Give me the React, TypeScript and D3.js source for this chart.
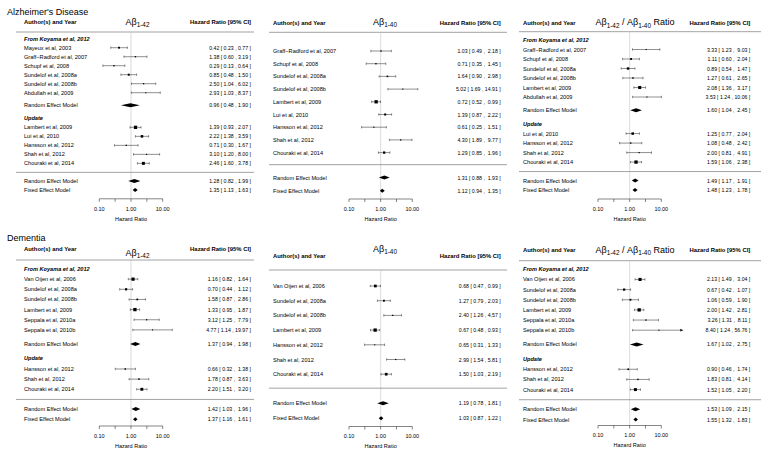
import React from "react";
import * as d3 from "d3";

type Row = [string, number, number, number];

// ---------- Alzheimer's disease ----------
const ad42Koyama: Row[] = [
  ["Mayeux et al, 2003", 0.42, 0.23, 0.77],
  ["Graff\u2212Radford et al, 2007", 1.38, 0.6, 3.19],
  ["Schupf et al, 2008", 0.29, 0.13, 0.64],
  ["Sundelof et al, 2008a", 0.85, 0.48, 1.5],
  ["Sundelof et al, 2008b", 2.5, 1.04, 6.02],
  ["Abdullah et al, 2009", 2.93, 1.03, 8.37],
];
const ad42KoyamaRE = [0.96, 0.48, 1.9];
const ad42Update: Row[] = [
  ["Lambert et al, 2009", 1.39, 0.93, 2.07],
  ["Lui et al, 2010", 2.22, 1.38, 3.59],
  ["Hansson et al, 2012", 0.71, 0.3, 1.67],
  ["Shah et al, 2012", 3.1, 1.2, 8.0],
  ["Chouraki et al, 2014", 2.46, 1.6, 3.78],
];
const ad42RE = [1.28, 0.82, 1.99];
const ad42FE = [1.35, 1.13, 1.63];

const ad40Studies: Row[] = [
  ["Graff\u2212Radford et al, 2007", 1.03, 0.49, 2.18],
  ["Schupf et al, 2008", 0.71, 0.35, 1.45],
  ["Sundelof et al, 2008a", 1.64, 0.9, 2.98],
  ["Sundelof et al, 2008b", 5.02, 1.69, 14.91],
  ["Lambert et al, 2009", 0.72, 0.52, 0.99],
  ["Lui et al, 2010", 1.39, 0.87, 2.22],
  ["Hansson et al, 2012", 0.61, 0.25, 1.51],
  ["Shah et al, 2012", 4.3, 1.89, 9.77],
  ["Chouraki et al, 2014", 1.29, 0.85, 1.96],
];
const ad40RE = [1.31, 0.88, 1.93];
const ad40FE = [1.12, 0.94, 1.35];

const adRatioKoyama: Row[] = [
  ["Graff\u2212Radford et al, 2007", 3.33, 1.23, 9.03],
  ["Schupf et al, 2008", 1.11, 0.6, 2.04],
  ["Sundelof et al, 2008a", 0.89, 0.54, 1.47],
  ["Sundelof et al, 2008b", 1.27, 0.61, 2.65],
  ["Lambert et al, 2009", 2.08, 1.36, 3.17],
  ["Abdullah et al, 2009", 3.53, 1.24, 10.06],
];
const adRatioKoyamaRE = [1.6, 1.04, 2.45];
const adRatioUpdate: Row[] = [
  ["Lui et al, 2010", 1.25, 0.77, 2.04],
  ["Hansson et al, 2012", 1.08, 0.48, 2.42],
  ["Shah et al, 2012", 2.0, 0.81, 4.91],
  ["Chouraki et al, 2014", 1.59, 1.06, 2.38],
];
const adRatioRE = [1.49, 1.17, 1.91];
const adRatioFE = [1.48, 1.23, 1.78];

// ---------- Dementia ----------
const dem42Koyama: Row[] = [
  ["Van Oijen et al, 2006", 1.16, 0.82, 1.64],
  ["Sundelof et al, 2008a", 0.7, 0.44, 1.12],
  ["Sundelof et al, 2008b", 1.58, 0.87, 2.86],
  ["Lambert et al, 2009", 1.33, 0.95, 1.87],
  ["Seppala et al, 2010a", 3.12, 1.25, 7.79],
  ["Seppala et al, 2010b", 4.77, 1.14, 19.97],
];
const dem42KoyamaRE = [1.37, 0.94, 1.98];
const dem42Update: Row[] = [
  ["Hansson et al, 2012", 0.66, 0.32, 1.38],
  ["Shah et al, 2012", 1.78, 0.87, 3.63],
  ["Chouraki et al, 2014", 2.2, 1.51, 3.2],
];
const dem42RE = [1.42, 1.03, 1.96];
const dem42FE = [1.37, 1.16, 1.61];

const dem40Studies: Row[] = [
  ["Van Oijen et al, 2006", 0.68, 0.47, 0.99],
  ["Sundelof et al, 2008a", 1.27, 0.79, 2.03],
  ["Sundelof et al, 2008b", 2.4, 1.26, 4.57],
  ["Lambert et al, 2009", 0.67, 0.48, 0.93],
  ["Hansson et al, 2012", 0.65, 0.31, 1.33],
  ["Shah et al, 2012", 2.99, 1.54, 5.81],
  ["Chouraki et al, 2014", 1.5, 1.03, 2.19],
];
const dem40RE = [1.19, 0.78, 1.81];
const dem40FE = [1.03, 0.87, 1.22];

const demRatioKoyama: Row[] = [
  ["Van Oijen et al, 2006", 2.13, 1.49, 3.04],
  ["Sundelof et al, 2008a", 0.67, 0.42, 1.07],
  ["Sundelof et al, 2008b", 1.06, 0.59, 1.9],
  ["Lambert et al, 2009", 2.0, 1.42, 2.81],
  ["Seppala et al, 2010a", 3.26, 1.31, 8.11],
  ["Seppala et al, 2010b", 8.4, 1.24, 56.76],
];
const demRatioKoyamaRE = [1.67, 1.02, 2.75];
const demRatioUpdate: Row[] = [
  ["Hansson et al, 2012", 0.9, 0.46, 1.74],
  ["Shah et al, 2012", 1.83, 0.81, 4.14],
  ["Chouraki et al, 2014", 1.52, 1.05, 2.2],
];
const demRatioRE = [1.53, 1.09, 2.15];
const demRatioFE = [1.55, 1.32, 1.83];

// ---------- axis ----------
const tickValues = [0.1, 0.316, 1, 3.16, 10];
const tickLabelValues = [0.1, 1, 10];
const xDomain: [number, number] = [0.1, 10];

const sectionTitles = ["Alzheimer's Disease", "Dementia"];
const groupTitles = ["From Koyama et al, 2012", "Update"];

// ---------- layout ----------
const FONT = "'Liberation Sans', Arial, Helvetica, sans-serif";
const W = 762;
const H = 458;

interface Col {
  range: [number, number];
  labelX: number;
  ciX: number;
  lineX: [number, number];
  titleX: number;
}
const cols: Col[] = [
  { range: [99.3, 162.7], labelX: 24, ciX: 251, lineX: [16, 254], titleX: 137.5 },
  { range: [349, 412.3], labelX: 273, ciX: 500.7, lineX: [269, 507], titleX: 385 },
  { range: [598, 661.3], labelX: 523, ciX: 750.3, lineX: [519, 761], titleX: 635 },
];

interface PanelDef {
  col: number;
  kind: "a42" | "a40" | "ratio";
  A: Row[];
  reA?: number[];
  B?: Row[];
  re: number[];
  fe: number[];
  y0: number;
  s: number;
  headY: number;
  lineY: number;
  axisY: number;
  titleY: number;
  clipHi?: number;
}

const panels: PanelDef[] = [
  { col: 0, kind: "a42", A: ad42Koyama, reA: ad42KoyamaRE, B: ad42Update, re: ad42RE, fe: ad42FE,
    y0: 38.7, s: 9.0, headY: 21.7, lineY: 32, axisY: 198.8, titleY: 22 },
  { col: 1, kind: "a40", A: ad40Studies, re: ad40RE, fe: ad40FE,
    y0: 51, s: 12.7, headY: 23.3, lineY: 32.3, axisY: 199, titleY: 21.5 },
  { col: 2, kind: "ratio", A: adRatioKoyama, reA: adRatioKoyamaRE, B: adRatioUpdate, re: adRatioRE, fe: adRatioFE,
    y0: 40, s: 9.5, headY: 22.7, lineY: 31.7, axisY: 199, titleY: 22.3 },
  { col: 0, kind: "a42", A: dem42Koyama, reA: dem42KoyamaRE, B: dem42Update, re: dem42RE, fe: dem42FE,
    y0: 269, s: 10.15, headY: 249.3, lineY: 260, axisY: 426, titleY: 253 },
  { col: 1, kind: "a40", A: dem40Studies, re: dem40RE, fe: dem40FE,
    y0: 286, s: 14.7, headY: 256, lineY: 270, axisY: 426.5, titleY: 248.5 },
  { col: 2, kind: "ratio", A: demRatioKoyama, reA: demRatioKoyamaRE, B: demRatioUpdate, re: demRatioRE, fe: demRatioFE,
    y0: 269.3, s: 10.15, headY: 250, lineY: 260.7, axisY: 425.5, titleY: 250, clipHi: 50 },
];

type Item =
  | { t: "group"; text: string; k: number }
  | { t: "study"; row: Row; k: number }
  | { t: "sum"; text: string; v: number[]; k: number }
  | { t: "sep"; k: number };

function buildItems(p: PanelDef): Item[] {
  const items: Item[] = [];
  let last = 0;
  if (p.B && p.reA) {
    items.push({ t: "group", text: groupTitles[0], k: 0 });
    p.A.forEach((r, i) => items.push({ t: "study", row: r, k: i + 1 }));
    const n1 = p.A.length;
    items.push({ t: "sum", text: "Random Effect Model", v: p.reA, k: n1 + 1.4 });
    items.push({ t: "group", text: groupTitles[1], k: n1 + 2.8 });
    p.B.forEach((r, i) => items.push({ t: "study", row: r, k: n1 + 3.85 + i }));
    last = n1 + 3.85 + p.B.length - 1;
    const sep = last + 1.0;
    items.push({ t: "sep", k: sep });
    items.push({ t: "sum", text: "Random Effect Model", v: p.re, k: sep + 0.95 });
    items.push({ t: "sum", text: "Fixed Effect Model", v: p.fe, k: sep + 1.95 });
  } else {
    p.A.forEach((r, i) => items.push({ t: "study", row: r, k: i }));
    last = p.A.length - 1;
    const sep = last + 0.95;
    items.push({ t: "sep", k: sep });
    items.push({ t: "sum", text: "Random Effect Model", v: p.re, k: sep + 1.02 });
    items.push({ t: "sum", text: "Fixed Effect Model", v: p.fe, k: sep + 2.05 });
  }
  return items;
}

const f2 = (v: number) => v.toFixed(2);

function Title({ kind, x, y }: { kind: string; x: number; y: number }) {
  const big = 9;
  const sub = 6.4;
  if (kind === "ratio") {
    return (
      <text x={x} y={y} textAnchor="middle" dominantBaseline="central" fontSize={big} fontFamily={FONT} style={{ whiteSpace: "pre" }}>
        <tspan>Aβ</tspan>
        <tspan fontSize={sub} dy={2.3}>1-42</tspan>
        <tspan dy={-2.3}> / Aβ</tspan>
        <tspan fontSize={sub} dy={2.3}>1-40</tspan>
        <tspan dy={-2.3}> Ratio</tspan>
      </text>
    );
  }
  return (
    <text x={x} y={y} textAnchor="middle" dominantBaseline="central" fontSize={big} fontFamily={FONT}>
      <tspan>Aβ</tspan>
      <tspan fontSize={sub} dy={2.3}>{kind === "a42" ? "1-42" : "1-40"}</tspan>
    </text>
  );
}

function Panel({ p }: { p: PanelDef }) {
  const c = cols[p.col];
  const x = d3.scaleLog().domain(xDomain).range(c.range);
  const y = d3.scaleLinear().domain([0, 1]).range([p.y0, p.y0 + p.s]);
  const items = buildItems(p);

  // square sizes from inverse-variance weights (metafor style: rescaled to 0.5..1.5)
  const studies = items.filter((d) => d.t === "study") as { t: "study"; row: Row; k: number }[];
  const wts = studies.map((d) => {
    const se = (Math.log(d.row[3]) - Math.log(d.row[2])) / (2 * 1.959964);
    return 1 / (se * se);
  });
  const wMin = d3.min(wts)!;
  const wMax = d3.max(wts)!;
  const psize = (w: number) => 0.5 + (w - wMin) / (wMax - wMin);
  const S = 2.2;

  // width padding of upper CI, like formatC
  const allHi = [
    ...studies.map((d) => f2(d.row[3])),
    ...items.filter((d) => d.t === "sum").map((d: any) => f2(d.v[2])),
  ];
  const hiW = d3.max(allHi, (s) => s.length)!;
  const ciText = (e: number, lo: number, hi: number) =>
    `${f2(e)} [ ${f2(lo)} , ${f2(hi).padStart(hiW, " ")} ]`;

  const labelSize = 5.6;
  const ciSize = 5.2;
  const cap = 1.2;
  const dh = 2.0;
  const x1 = x(1);

  let si = 0;
  return (
    <g>
      {/* header */}
      <text x={c.labelX} y={p.headY} dominantBaseline="central" fontSize={5.9} fontWeight="bold" fontFamily={FONT}>
        Author(s) and Year
      </text>
      <text x={c.ciX} y={p.headY} textAnchor="end" dominantBaseline="central" fontSize={5.9} fontWeight="bold" fontFamily={FONT}>
        Hazard Ratio [95% CI]
      </text>
      <Title kind={p.kind} x={c.titleX} y={p.titleY} />
      <line x1={c.lineX[0]} x2={c.lineX[1]} y1={p.lineY} y2={p.lineY} stroke="#8a8a8a" strokeWidth={0.8} />
      {/* reference line */}
      <line x1={x1} x2={x1} y1={p.lineY} y2={p.axisY} stroke="#c4c4c4" strokeWidth={0.6} />

      {items.map((d, i) => {
        if (d.t === "group") {
          return (
            <text key={i} x={c.labelX} y={y(d.k)} dominantBaseline="central" fontSize={labelSize} fontWeight="bold" fontStyle="italic" fontFamily={FONT}>
              {d.text}
            </text>
          );
        }
        if (d.t === "sep") {
          return <line key={i} x1={c.lineX[0]} x2={c.lineX[1]} y1={y(d.k)} y2={y(d.k)} stroke="#8a8a8a" strokeWidth={0.8} />;
        }
        if (d.t === "study") {
          const [name, e, lo, hi] = d.row;
          const yy = y(d.k);
          const w = wts[si++];
          const side = S * psize(w);
          const clipped = p.clipHi !== undefined && hi > p.clipHi;
          const xHi = clipped ? x(p.clipHi!) : x(hi);
          return (
            <g key={i}>
              <text x={c.labelX} y={yy} dominantBaseline="central" fontSize={labelSize} fontFamily={FONT}>
                {name}
              </text>
              <line x1={x(lo)} x2={clipped ? xHi - 2.5 : xHi} y1={yy} y2={yy} stroke="#333" strokeWidth={0.55} />
              <line x1={x(lo)} x2={x(lo)} y1={yy - cap} y2={yy + cap} stroke="#333" strokeWidth={0.55} />
              {clipped ? (
                <polygon points={`${xHi},${yy} ${xHi - 3.2},${yy - 1.4} ${xHi - 3.2},${yy + 1.4}`} fill="#111" />
              ) : (
                <line x1={xHi} x2={xHi} y1={yy - cap} y2={yy + cap} stroke="#333" strokeWidth={0.55} />
              )}
              <rect x={x(e) - side / 2} y={yy - side / 2} width={side} height={side} fill="#000" />
              <text x={c.ciX} y={yy} textAnchor="end" dominantBaseline="central" fontSize={ciSize} fontFamily={FONT} style={{ whiteSpace: "pre" }}>
                {ciText(e, lo, hi)}
              </text>
            </g>
          );
        }
        const [e, lo, hi] = d.v;
        const yy = y(d.k);
        return (
          <g key={i}>
            <text x={c.labelX} y={yy} dominantBaseline="central" fontSize={labelSize} fontFamily={FONT}>
              {d.text}
            </text>
            <polygon
              points={`${x(lo)},${yy} ${x(e)},${yy - dh} ${x(hi)},${yy} ${x(e)},${yy + dh}`}
              fill="#000"
            />
            <text x={c.ciX} y={yy} textAnchor="end" dominantBaseline="central" fontSize={ciSize} fontFamily={FONT} style={{ whiteSpace: "pre" }}>
              {ciText(e, lo, hi)}
            </text>
          </g>
        );
      })}

      {/* x axis */}
      <line x1={x(xDomain[0])} x2={x(xDomain[1])} y1={p.axisY} y2={p.axisY} stroke="#333" strokeWidth={0.6} />
      {tickValues.map((t) => (
        <line key={t} x1={x(t)} x2={x(t)} y1={p.axisY} y2={p.axisY + 3} stroke="#333" strokeWidth={0.6} />
      ))}
      {tickLabelValues.map((t) => (
        <text key={t} x={x(t)} y={p.axisY + 9.8} textAnchor="middle" dominantBaseline="central" fontSize={5.5} fontFamily={FONT}>
          {f2(t)}
        </text>
      ))}
      <text x={x1} y={p.axisY + 19.8} textAnchor="middle" dominantBaseline="central" fontSize={5.5} fontFamily={FONT}>
        Hazard Ratio
      </text>
    </g>
  );
}

export default function App() {
  return (
    <svg
      width={W}
      height={H}
      viewBox={`0 0 ${W} ${H}`}
      style={{ position: "absolute", left: 0, top: 0, background: "#fff" }}
    >
      <rect width={W} height={H} fill="#fff" />
      <text x={7} y={11.7} dominantBaseline="central" fontSize={9} fontFamily={FONT}>
        {sectionTitles[0]}
      </text>
      <text x={7} y={238.3} dominantBaseline="central" fontSize={9} fontFamily={FONT}>
        {sectionTitles[1]}
      </text>
      {panels.map((p, i) => (
        <Panel key={i} p={p} />
      ))}
    </svg>
  );
}
